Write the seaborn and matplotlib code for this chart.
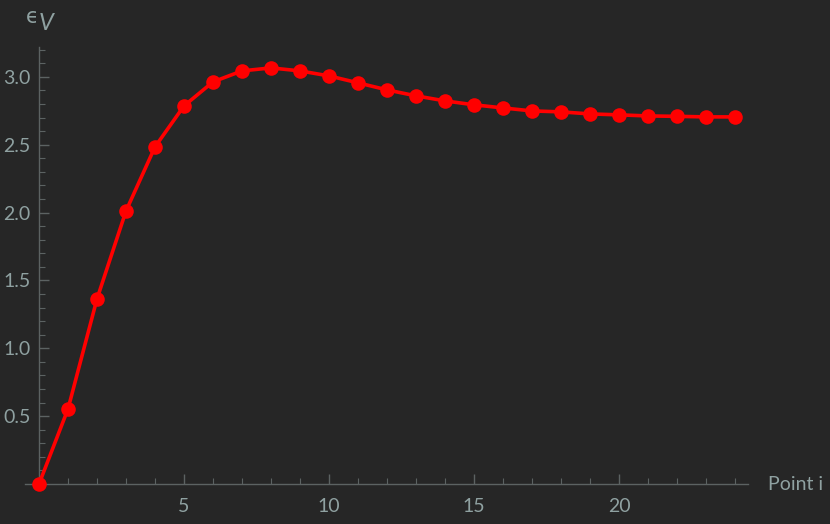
import numpy as np
import pandas as pd
import matplotlib
matplotlib.use("Agg")
import matplotlib.pyplot as plt
from matplotlib.ticker import FixedLocator, MultipleLocator
import seaborn as sns

# 데이터
point_i = list(range(25))
eps_v = [0.0, 0.553, 1.364, 2.012, 2.484, 2.786, 2.963, 3.044, 3.066, 3.044,
         3.007, 2.956, 2.904, 2.860, 2.823, 2.794, 2.771, 2.749, 2.742, 2.727,
         2.720, 2.712, 2.709, 2.705, 2.705]
x_ticks = [5, 10, 15, 20]
y_ticks = [0.5, 1.0, 1.5, 2.0, 2.5, 3.0]

df = pd.DataFrame({"Point i": point_i, "eps": eps_v})

bg = "#262626"
axis_col = "#5c6262"
text_col = "#8fa1a1"

sns.set_theme(style="dark")
plt.rcParams["font.family"] = ["Lato", "DejaVu Sans"]

fig = plt.figure(figsize=(8.3, 5.24), dpi=100, facecolor=bg)
ax = fig.add_axes([25 / 830, 40 / 524, 723 / 830, 437 / 524])
ax.set_facecolor(bg)

sns.lineplot(data=df, x="Point i", y="eps", ax=ax, color="#ff0000",
             linewidth=2.6, marker="o", markersize=10.5, markeredgewidth=0,
             clip_on=False, zorder=5)

ax.set_xlim(-0.483, 24.45)
ax.set_ylim(0, 3.22)

for s in ["top", "right"]:
    ax.spines[s].set_visible(False)
ax.spines["left"].set_position(("data", 0))
ax.spines["bottom"].set_position(("data", 0))
for s in ["left", "bottom"]:
    ax.spines[s].set_color(axis_col)
    ax.spines[s].set_linewidth(1.0)

ax.xaxis.set_major_locator(FixedLocator(x_ticks))
ax.yaxis.set_major_locator(FixedLocator(y_ticks))
ax.xaxis.set_minor_locator(MultipleLocator(1))
ax.yaxis.set_minor_locator(MultipleLocator(0.1))
ax.set_xticklabels([str(t) for t in x_ticks])
ax.set_yticklabels([f"{t:.1f}" for t in y_ticks])

ax.tick_params(axis="both", which="both", direction="in", colors=axis_col,
               labelcolor=text_col, labelsize=14, bottom=True, left=True)
ax.tick_params(axis="both", which="major", length=7, width=1.0)
ax.tick_params(axis="both", which="minor", length=4, width=0.8)
ax.tick_params(axis="x", which="major", pad=10)
ax.tick_params(axis="y", which="major", pad=6)
ax.grid(False)

ax.set_xlabel("")
ax.set_ylabel("")
fig.text(768 / 830, 1 - 484 / 524, "Point i", color=text_col, fontsize=14,
         ha="left", va="center")
# 축 이름 ϵ_V
fig.text(26 / 830, 1 - 17 / 524, "\u03f5", color=text_col, fontsize=15,
         ha="left", va="center", family=["DejaVu Sans"])
fig.text(39 / 830, 1 - 23 / 524, "V", color=text_col, fontsize=17,
         ha="left", va="center", style="italic")

fig.savefig("out.png", dpi=100, facecolor=bg)
